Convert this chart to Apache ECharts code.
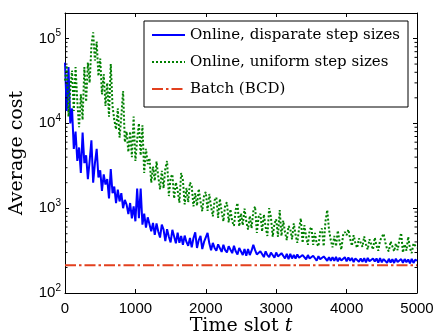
<!DOCTYPE html>
<html>
<head>
<meta charset="utf-8">
<script src="https://cdn.jsdelivr.net/npm/echarts@6/dist/echarts.min.js"></script>
<style>
  html, body { margin: 0; padding: 0; background: #fff; }
  #chart { width: 437px; height: 334px; }
</style>
</head>
<body>
<div id="chart"></div>
<script>
// Sampling interval of the cost traces (time slots between stored values)
const SLOT_STEP = 25;

// Average cost, online algorithm with disparate step sizes (one row = 200 slots)
const disparateCost = [
  52000, 14000, 46000, 10000, 15000, 5000, 8000, 3600,
  5200, 2600, 7800, 3400, 4200, 2200, 3600, 6300,
  2000, 3400, 5000, 2300, 2800, 1600, 2500, 1900,
  2200, 1300, 2900, 1500, 1800, 1150, 1650, 1200,
  1500, 1000, 1250, 1100, 850, 1150, 760, 1050,
  700, 1700, 760, 1700, 640, 860, 590, 780,
  780, 535, 670, 485, 660, 530, 450, 640,
  560, 410, 565, 460, 395, 555, 555, 385,
  515, 390, 470, 370, 475, 400, 360, 445,
  345, 445, 520, 340, 420, 470, 330, 400,
  410, 510, 385, 320, 390, 340, 315, 375,
  365, 305, 370, 320, 300, 355, 365, 295,
  360, 310, 285, 340, 350, 280, 330, 275,
  330, 280, 315, 370, 320, 285, 275, 310,
  305, 265, 310, 280, 265, 300, 305, 260,
  300, 270, 260, 295, 300, 255, 290, 250,
  290, 255, 280, 255, 285, 260, 250, 280,
  275, 250, 280, 255, 245, 275, 275, 240,
  272, 250, 240, 270, 270, 240, 265, 240,
  265, 240, 266, 236, 260, 242, 237, 264,
  236, 263, 240, 259, 232, 256, 261, 234,
  255, 233, 257, 230, 259, 237, 231, 255,
  236, 255, 228, 257, 230, 251, 253, 227,
  253, 229, 250, 226, 254, 232, 227, 251,
  227, 251, 231, 248, 224, 252, 226, 247,
  240
];

// Average cost, online algorithm with uniform step sizes (one row = 200 slots)
const uniformCost = [
  32000, 48000, 12000, 26000, 42000, 14000, 46000, 18000,
  9000, 22000, 11000, 46000, 18000, 52000, 30000, 82000,
  118000, 55000, 92000, 36000, 58000, 22000, 38000, 16000,
  30000, 12000, 50000, 16000, 11000, 8500, 15000, 6800,
  12000, 24000, 6000, 8000, 4600, 8000, 4000, 12000,
  3600, 6500, 10000, 4200, 9500, 2600, 5000, 3300,
  3900, 2000, 3100, 2100, 3550, 2340, 1670, 2760,
  1720, 2940, 3600, 1390, 2300, 2510, 1300, 2010,
  1620, 1160, 2600, 2130, 1110, 1730, 1180, 2020,
  1820, 1050, 1500, 1070, 1690, 1190, 920, 1420,
  1550, 930, 1470, 1040, 800, 1240, 1340, 770,
  1290, 910, 700, 1090, 1170, 680, 970, 700,
  620, 960, 1150, 610, 870, 630, 990, 700,
  560, 810, 580, 920, 1050, 510, 790, 860,
  530, 840, 600, 470, 1000, 790, 460, 660,
  740, 460, 950, 470, 715, 520, 420, 615,
  570, 430, 660, 485, 390, 575, 760, 390,
  630, 460, 370, 550, 600, 370, 510, 385,
  355, 525, 575, 355, 700, 950, 560, 420,
  345, 470, 355, 545, 400, 325, 480, 525,
  480, 560, 435, 360, 480, 385, 340, 440,
  420, 350, 465, 375, 325, 430, 450, 325,
  450, 360, 315, 415, 435, 500, 395, 330,
  310, 405, 425, 310, 385, 320, 425, 510,
  300, 375, 315, 460, 335, 295, 385, 405,
  340
];

// Batch (BCD) reference cost over the whole horizon
const batchTimes = [0, 5000];
const batchCost = [212, 212];

const seriesNames = ['Online, disparate step sizes', 'Online, uniform step sizes', 'Batch (BCD)'];
const xTicks = [0, 1000, 2000, 3000, 4000, 5000];
const minorTickValues = [
  200, 300, 400, 500, 600, 700, 800, 900,
  2000, 3000, 4000, 5000, 6000, 7000, 8000, 9000,
  20000, 30000, 40000, 50000, 60000, 70000, 80000, 90000
];

const toPairs = values => values.map((v, i) => [i * SLOT_STEP, v]);

const SANS = 'Liberation Sans';
const SERIF = 'DejaVu Serif';
const axisLine = { show: true, onZero: false, lineStyle: { color: '#000', width: 1 } };
const axisTick = { show: true, inside: true, length: 4, lineStyle: { color: '#000', width: 1 } };

const chart = echarts.init(document.getElementById('chart'), null, { renderer: 'canvas' });

chart.setOption({
  animation: false,
  backgroundColor: '#fff',
  grid: { left: 65, right: 20, top: 13, bottom: 41, containLabel: false },
  xAxis: [
    {
      type: 'value', min: xTicks[0], max: xTicks[xTicks.length - 1], interval: 1000,
      position: 'bottom', axisLine, axisTick, splitLine: { show: false },
      axisLabel: { margin: 8, fontFamily: SANS, fontSize: 15, color: '#000', formatter: v => String(v) }
    },
    {
      type: 'value', min: xTicks[0], max: xTicks[xTicks.length - 1], interval: 1000,
      position: 'top', axisLine, axisTick, splitLine: { show: false },
      axisLabel: { show: false }
    }
  ],
  yAxis: [
    {
      type: 'log', logBase: 10, min: 100, max: 200000, position: 'left',
      axisLine, axisTick, splitLine: { show: false }, minorTick: { show: false },
      axisLabel: {
        margin: 4, showMaxLabel: false,
        formatter: value => {
          const e = Math.round(Math.log10(value));
          if (Math.abs(Math.log10(value) - e) > 1e-6) return '';
          return '{b|10}{s|' + e + '}';
        },
        rich: {
          b: { fontFamily: SANS, fontSize: 15, lineHeight: 20, color: '#000' },
          s: { fontFamily: SANS, fontSize: 10, lineHeight: 10, padding: [0, 0, 10, 0], color: '#000' }
        }
      }
    },
    {
      type: 'log', logBase: 10, min: 100, max: 200000, position: 'right',
      axisLine, axisTick, splitLine: { show: false }, axisLabel: { show: false }
    }
  ],
  legend: {
    data: seriesNames,
    orient: 'vertical',
    left: 144, top: 21,
    padding: [6.5, 8, 10.5, 7],
    itemWidth: 33, itemHeight: 15, itemGap: 12,
    itemStyle: { opacity: 0 },
    backgroundColor: '#fff',
    borderColor: '#000', borderWidth: 1,
    textStyle: { fontFamily: SERIF, fontSize: 15, lineHeight: 15, color: '#000' },
    selectedMode: false
  },
  graphic: [
    {
      type: 'text', x: 241, y: 326,
      style: {
        text: '{r|Time slot }{i|t}',
        align: 'center', verticalAlign: 'middle',
        rich: {
          r: { fontFamily: SERIF, fontSize: 19, fill: '#000' },
          i: { fontFamily: SERIF, fontSize: 19, fontStyle: 'italic', fill: '#000' }
        }
      }
    },
    {
      type: 'text', x: 17, y: 153, rotation: Math.PI / 2,
      style: {
        text: 'Average cost', align: 'center', verticalAlign: 'middle',
        fontFamily: SERIF, fontSize: 19, fill: '#000'
      }
    }
  ],
  series: [
    {
      name: seriesNames[0], type: 'line', symbol: 'none', showSymbol: false, z: 2,
      data: toPairs(disparateCost),
      lineStyle: { color: '#0000ff', width: 2 },
      itemStyle: { color: '#0000ff' }
    },
    {
      name: seriesNames[1], type: 'line', symbol: 'none', showSymbol: false, z: 3,
      data: toPairs(uniformCost),
      lineStyle: { color: '#008000', width: 2, type: [2, 2] },
      itemStyle: { color: '#008000' }
    },
    {
      name: seriesNames[2], type: 'line', symbol: 'none', showSymbol: false, z: 4,
      data: batchTimes.map((t, i) => [t, batchCost[i]]),
      lineStyle: { color: '#e2401e', width: 2, type: [11, 3, 2.5, 3] },
      itemStyle: { color: '#e2401e' }
    },
    {
      // minor ticks of the logarithmic cost axis, on both sides of the box
      type: 'custom', silent: true, z: 10, clip: false,
      data: minorTickValues.map(v => [0, v]),
      renderItem: (params, api) => {
        const y = api.coord([0, api.value(1)])[1];
        const cs = params.coordSys;
        const style = { stroke: '#000', lineWidth: 1 };
        return {
          type: 'group',
          children: [
            { type: 'line', shape: { x1: cs.x, y1: y, x2: cs.x + 2.5, y2: y }, style },
            { type: 'line', shape: { x1: cs.x + cs.width, y1: y, x2: cs.x + cs.width - 2.5, y2: y }, style }
          ]
        };
      }
    }
  ]
});
</script>
</body>
</html>
